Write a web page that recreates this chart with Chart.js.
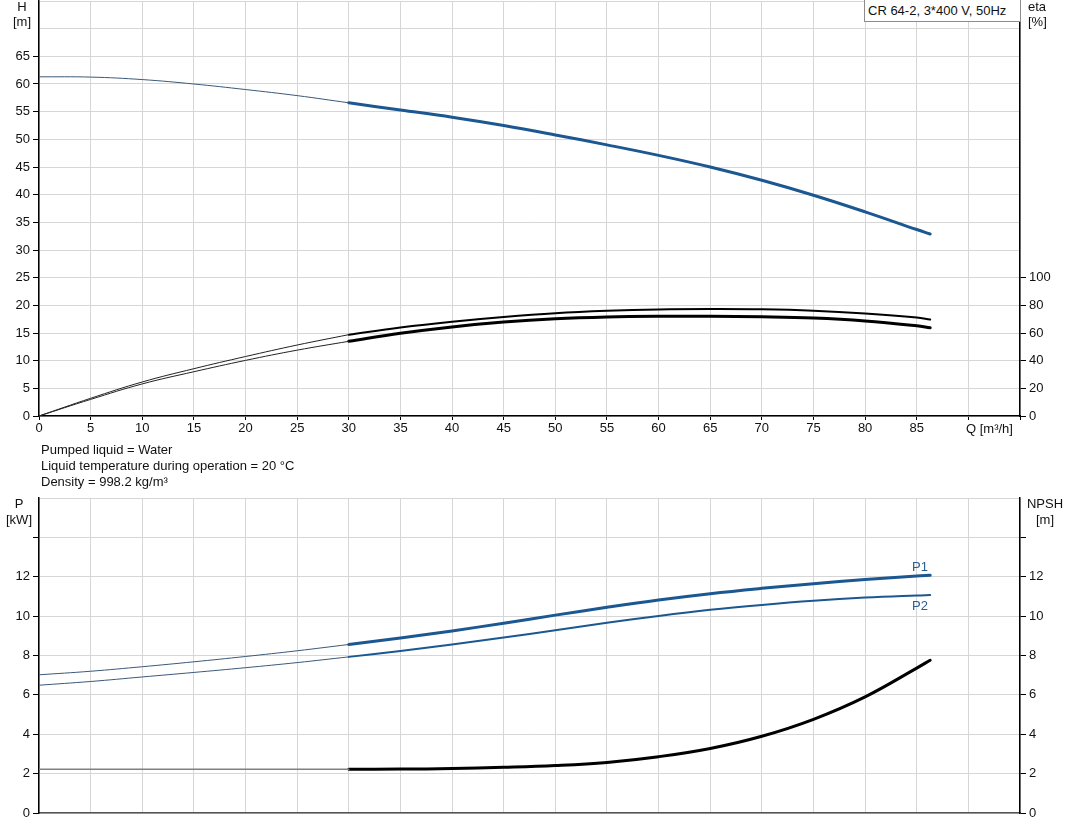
<!DOCTYPE html>
<html>
<head>
<meta charset="utf-8">
<script src="https://cdn.jsdelivr.net/npm/chart.js@4.4.1/dist/chart.umd.min.js"></script>
<style>
  body { margin: 0; background: #fff; }
  #wrap { position: relative; width: 1071px; height: 833px; overflow: hidden; font-family: "Liberation Sans", Arial, sans-serif; font-size: 13px; color: #111; }
  canvas { position: absolute; left: 0; }
  .t { position: absolute; white-space: nowrap; line-height: 15px; }
</style>
</head>
<body>
<div id="wrap">
  <canvas id="qhChart" width="1071" height="445" style="top:0"></canvas>
  <canvas id="powerChart" width="1071" height="363" style="top:470px"></canvas>

  <div class="t" style="left:7px;top:-1px;width:30px;text-align:center">H<br>[m]</div>
  <div class="t" style="left:1028px;top:-1px">eta<br>[%]</div>
  <div class="t" style="left:864px;top:-1px;width:152px;height:21px;line-height:21px;border:1px solid #8c8c8c;background:#fff;padding-left:3px">CR 64-2, 3*400 V, 50Hz</div>
  <div class="t" style="left:966px;top:421px;line-height:15px">Q [m³/h]</div>

  <div class="t" style="left:41px;top:442px;line-height:16px">Pumped liquid = Water<br>Liquid temperature during operation = 20 °C<br>Density = 998.2 kg/m³</div>

  <div class="t" style="left:3px;top:496px;width:32px;text-align:center;line-height:16px">P<br>[kW]</div>
  <div class="t" style="left:1025px;top:496px;width:40px;text-align:center;line-height:16px">NPSH<br>[m]</div>
  <div class="t" style="left:912px;top:559px;color:#2a5d8f;line-height:15px">P1</div>
  <div class="t" style="left:912px;top:598px;color:#2a5d8f;line-height:15px">P2</div>
</div>

<script>
// Flow points (m³/h): thin part is outside the operating range, thick part inside it
const qThin = [0, 5, 10, 15, 20, 25, 30];
const qThick = [30, 35, 40, 45, 50, 55, 60, 65, 70, 75, 80, 85, 86.3];

// Head H [m]
const headThin = [61.3, 61.25, 60.8, 60.0, 59.0, 57.9, 56.6];
const headThick = [56.6, 55.3, 54.0, 52.5, 50.8, 49.0, 47.1, 45.0, 42.6, 39.9, 36.9, 33.7, 32.9];

// Efficiency eta [%] (pump and total)
const etaPumpThin = [0, 12.8, 24.6, 34.2, 43.0, 51.3, 58.8];
const etaPumpThick = [58.8, 64.0, 68.2, 71.6, 74.3, 76.0, 77.0, 77.3, 77.1, 76.1, 74.1, 71.2, 69.7];
const etaTotalThin = [0, 12.0, 23.2, 32.0, 40.2, 47.6, 54.0];
const etaTotalThick = [54.0, 59.8, 64.4, 67.9, 70.3, 71.6, 72.1, 72.1, 71.7, 70.8, 68.7, 65.2, 63.8];

// Power P1 / P2 [kW]
const p1Thin = [7.02, 7.2, 7.43, 7.68, 7.95, 8.24, 8.56];
const p1Thick = [8.56, 8.89, 9.25, 9.64, 10.05, 10.45, 10.82, 11.14, 11.41, 11.65, 11.86, 12.04, 12.07];
const p2Thin = [6.49, 6.68, 6.91, 7.14, 7.38, 7.64, 7.93];
const p2Thick = [7.93, 8.23, 8.56, 8.91, 9.28, 9.66, 10.01, 10.32, 10.57, 10.78, 10.94, 11.05, 11.07];

// NPSH [m]
const npshThin = [2.22, 2.22, 2.22, 2.22, 2.22, 2.22, 2.22];
const npshThick = [2.22, 2.23, 2.26, 2.32, 2.41, 2.57, 2.86, 3.28, 3.9, 4.76, 5.9, 7.36, 7.76];

// Tick labels
const headTicks = [0, 5, 10, 15, 20, 25, 30, 35, 40, 45, 50, 55, 60, 65];
const etaTicks = [0, 20, 40, 60, 80, 100];
const flowTicks = [0, 5, 10, 15, 20, 25, 30, 35, 40, 45, 50, 55, 60, 65, 70, 75, 80, 85];
const powerTicks = [0, 2, 4, 6, 8, 10, 12];

Chart.defaults.font.family = '"Liberation Sans", Arial, sans-serif';
Chart.defaults.font.size = 13;
Chart.defaults.color = "#111";

const blue = "#1b5791";
const gridColor = "#d6d6d6";

function pts(xs, ys) {
  return xs.map((x, i) => ({ x: x, y: ys[i] }));
}

function curve(xs, ys, color, width, axis) {
  return {
    data: pts(xs, ys),
    borderColor: color,
    borderWidth: width,
    pointRadius: 0,
    fill: false,
    tension: 0.4,
    borderCapStyle: "round",
    yAxisID: axis || "y"
  };
}

// fixed axis sizes so both plot areas line up with the reference
function fixWidth(w) {
  return function (scale) { scale.width = w; scale.paddingTop = 0; scale.paddingBottom = 0; };
}
function fixHeight(h) {
  return function (scale) { scale.height = h; scale.paddingLeft = 0; scale.paddingRight = 0; };
}

// ---- Q-H / eta chart ----
new Chart(document.getElementById("qhChart"), {
  type: "line",
  data: {
    datasets: [
      curve(qThin, headThin, "#3b5878", 1),
      curve(qThick, headThick, blue, 3),
      curve(qThin, etaPumpThin, "#222", 1, "eta"),
      curve(qThick, etaPumpThick, "#000", 2, "eta"),
      curve(qThin, etaTotalThin, "#222", 1, "eta"),
      curve(qThick, etaTotalThick, "#000", 3, "eta")
    ]
  },
  options: {
    responsive: false,
    animation: false,
    layout: { padding: { top: 1, left: 0, right: 0, bottom: 0 } },
    plugins: { legend: { display: false }, tooltip: { enabled: false } },
    scales: {
      x: {
        type: "linear",
        min: 0,
        max: 95,
        afterFit: fixHeight(29),
        afterBuildTicks: (s) => { s.ticks = []; for (let v = 0; v <= 95; v += 5) s.ticks.push({ value: v }); },
        ticks: {
          padding: 1,
          maxRotation: 0,
          autoSkip: false,
          callback: (v) => flowTicks.includes(v) ? String(v) : ""
        },
        grid: { color: gridColor, tickLength: 4, tickColor: "#000" },
        border: { color: "#000", width: 1.5 }
      },
      y: {
        position: "left",
        min: 0,
        max: 75,
        afterFit: fixWidth(39),
        afterBuildTicks: (s) => { s.ticks = []; for (let v = 0; v <= 75; v += 5) s.ticks.push({ value: v }); },
        ticks: {
          padding: 3,
          autoSkip: false,
          callback: (v) => headTicks.includes(v) ? String(v) : ""
        },
        grid: {
          color: gridColor,
          tickLength: 6,
          tickColor: (c) => headTicks.includes(c.tick.value) ? "#000" : "rgba(0,0,0,0)"
        },
        border: { color: "#000", width: 1.5 }
      },
      eta: {
        position: "right",
        min: 0,
        max: 300,
        afterFit: fixWidth(51),
        afterBuildTicks: (s) => { s.ticks = etaTicks.map((v) => ({ value: v })); },
        ticks: { padding: 3, autoSkip: false },
        grid: { drawOnChartArea: false, tickLength: 6, tickColor: "#000" },
        border: { color: "#000", width: 1.5 }
      }
    }
  }
});

// ---- Power / NPSH chart ----
new Chart(document.getElementById("powerChart"), {
  type: "line",
  data: {
    datasets: [
      curve(qThin, p1Thin, "#3b5878", 1),
      curve(qThick, p1Thick, blue, 3),
      curve(qThin, p2Thin, "#3b5878", 1),
      curve(qThick, p2Thick, blue, 2),
      curve(qThin, npshThin, "#808080", 1.5, "npsh"),
      curve(qThick, npshThick, "#000", 3, "npsh")
    ]
  },
  options: {
    responsive: false,
    animation: false,
    layout: { padding: { top: 28, left: 0, right: 0, bottom: 0 } },
    plugins: { legend: { display: false }, tooltip: { enabled: false } },
    scales: {
      x: {
        type: "linear",
        min: 0,
        max: 95,
        afterFit: fixHeight(20),
        afterBuildTicks: (s) => { s.ticks = []; for (let v = 0; v <= 95; v += 5) s.ticks.push({ value: v }); },
        ticks: { display: false },
        grid: { color: gridColor, drawTicks: false },
        border: { color: "#555", width: 1.5 }
      },
      y: {
        position: "left",
        min: 0,
        max: 16,
        afterFit: fixWidth(39),
        afterBuildTicks: (s) => { s.ticks = []; for (let v = 0; v <= 16; v += 2) s.ticks.push({ value: v }); },
        ticks: {
          padding: 3,
          autoSkip: false,
          callback: (v) => powerTicks.includes(v) ? String(v) : ""
        },
        grid: {
          color: gridColor,
          tickLength: 6,
          tickColor: (c) => c.tick.value <= 14 ? "#000" : "rgba(0,0,0,0)"
        },
        border: { color: "#000", width: 1.5 }
      },
      npsh: {
        position: "right",
        min: 0,
        max: 16,
        afterFit: fixWidth(51),
        afterBuildTicks: (s) => { s.ticks = []; for (let v = 0; v <= 14; v += 2) s.ticks.push({ value: v }); },
        ticks: {
          padding: 3,
          autoSkip: false,
          callback: (v) => powerTicks.includes(v) ? String(v) : ""
        },
        grid: { drawOnChartArea: false, tickLength: 6, tickColor: "#000" },
        border: { color: "#000", width: 1.5 }
      }
    }
  }
});
</script>
</body>
</html>
